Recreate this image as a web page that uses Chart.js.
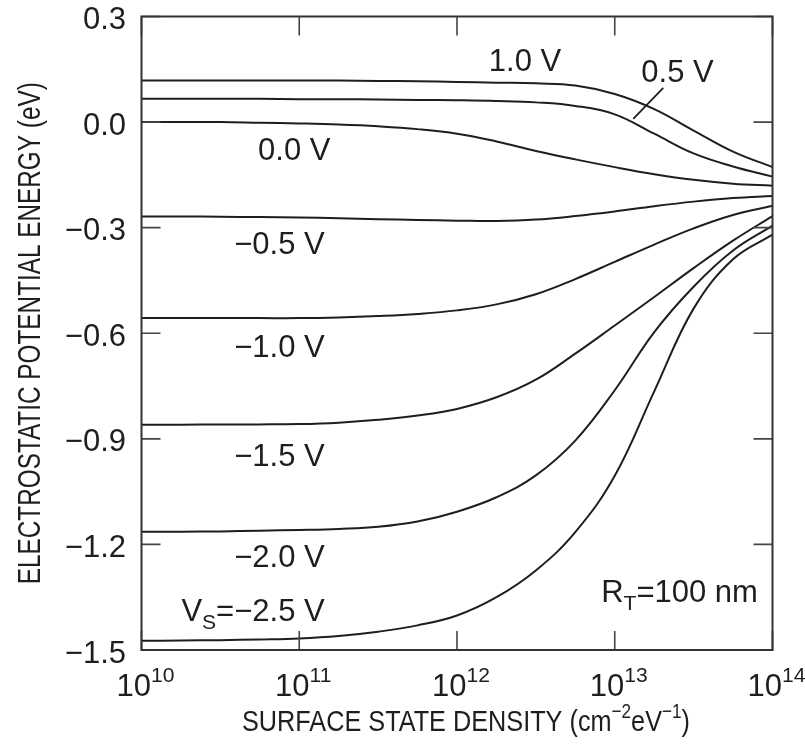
<!DOCTYPE html>
<html lang="en">
<head>
<meta charset="UTF-8" />
<title>Electrostatic potential energy vs surface state density</title>
<script src="https://cdn.jsdelivr.net/npm/chart.js"></script>
<style>
  html, body { margin: 0; padding: 0; background: #fff; }
  #wrap { width: 805px; height: 751px; }
</style>
</head>
<body>
<div id="wrap"><canvas id="potChart" width="805" height="751"></canvas></div>
<script>
// surface state density samples (cm^-2 eV^-1), quarter-decade steps
const density = [1e10, 1.78e10, 3.16e10, 5.62e10, 1e11, 1.78e11, 3.16e11, 5.62e11,
                 1e12, 1.78e12, 3.16e12, 5.62e12, 1e13, 1.78e13, 3.16e13, 5.62e13, 1e14];

// electrostatic potential energy (eV) for each sample bias Vs
const pot10  = [0.118, 0.118, 0.118, 0.118, 0.118, 0.118, 0.117, 0.116, 0.114, 0.112, 0.110, 0.104, 0.080, 0.037, -0.024, -0.084, -0.128];
const pot05  = [0.066, 0.066, 0.066, 0.066, 0.065, 0.065, 0.064, 0.063, 0.062, 0.060, 0.056, 0.046, 0.022, -0.033, -0.089, -0.126, -0.155];
const pot00  = [0.000, 0.000, 0.000, -0.002, -0.004, -0.007, -0.012, -0.020, -0.033, -0.055, -0.082, -0.106, -0.128, -0.148, -0.164, -0.175, -0.181];
const potM05 = [-0.268, -0.268, -0.269, -0.270, -0.271, -0.273, -0.276, -0.278, -0.280, -0.281, -0.277, -0.267, -0.254, -0.239, -0.226, -0.216, -0.210];
const potM10 = [-0.557, -0.557, -0.557, -0.557, -0.557, -0.555, -0.551, -0.545, -0.535, -0.518, -0.489, -0.446, -0.397, -0.348, -0.302, -0.264, -0.238];
const potM15 = [-0.860, -0.860, -0.859, -0.859, -0.858, -0.854, -0.846, -0.834, -0.815, -0.782, -0.732, -0.658, -0.578, -0.497, -0.415, -0.337, -0.267];
const potM20 = [-1.164, -1.164, -1.163, -1.161, -1.159, -1.156, -1.150, -1.135, -1.107, -1.066, -1.004, -0.905, -0.762, -0.597, -0.468, -0.365, -0.294];
const potM25 = [-1.474, -1.473, -1.472, -1.470, -1.467, -1.460, -1.448, -1.430, -1.402, -1.350, -1.274, -1.165, -1.005, -0.765, -0.530, -0.390, -0.320];

const series = [pot10, pot05, pot00, potM05, potM10, potM15, potM20, potM25];

// axis ticks
const yTicks = [0.3, 0.0, -0.3, -0.6, -0.9, -1.2, -1.5];
const yTickLabels = ['0.3', '0.0', '\u22120.3', '\u22120.6', '\u22120.9', '\u22121.2', '\u22121.5'];
const xTickExp = [10, 11, 12, 13, 14];

// pointer from the 0.5 V label to its curve
const leaderX = [1.31e13, 2.03e13];
const leaderY = [0.009, 0.097];

// curve labels, anchored in data units (x, y = text baseline)
const curveLabels = [
  { runs: [['1.0 V', '']], x: 2.7e12, y: 0.145, align: 'center' },
  { runs: [['0.5 V', '']], x: 2.5e13, y: 0.114, align: 'center' },
  { runs: [['0.0 V', '']], x: 9.3e10, y: -0.108, align: 'center' },
  { runs: [['\u22120.5 V', '']], x: 1.45e11, y: -0.375, align: 'right' },
  { runs: [['\u22121.0 V', '']], x: 1.45e11, y: -0.667, align: 'right' },
  { runs: [['\u22121.5 V', '']], x: 1.45e11, y: -0.978, align: 'right' },
  { runs: [['\u22122.0 V', '']], x: 1.45e11, y: -1.265, align: 'right' },
  { runs: [['V', ''], ['S', 'sub'], ['=\u22122.5 V', '']], x: 1.45e11, y: -1.418, align: 'right' },
  { runs: [['R', ''], ['T', 'sub'], ['=100 nm', '']], x: 8.2e12, y: -1.364, align: 'left' }
];

const FONT = '"Liberation Sans", Arial, Helvetica, sans-serif';
const INK = '#1e1e1e';

// draw a run list (normal / sup / sub pieces) with optional horizontal squeeze
function drawRuns(ctx, runs, x, y, size, opt) {
  opt = opt || {};
  const small = size * 0.68;
  const pieces = runs.map(([t, kind]) => {
    const s = kind ? small : size;
    ctx.font = s + 'px ' + FONT;
    return { t, kind, s, w: ctx.measureText(t).width };
  });
  const natural = pieces.reduce((a, p) => a + p.w, 0);
  const sx = opt.width ? opt.width / natural : (opt.sx || 1);
  const total = natural * sx;
  let start = 0;
  if (opt.align === 'center') start = -total / 2;
  else if (opt.align === 'right') start = -total;
  ctx.save();
  ctx.translate(x, y);
  if (opt.rotate) ctx.rotate(opt.rotate);
  ctx.translate(start, 0);
  ctx.scale(sx, 1);
  ctx.fillStyle = INK;
  ctx.textAlign = 'left';
  ctx.textBaseline = 'alphabetic';
  let cx = 0;
  pieces.forEach(p => {
    ctx.font = p.s + 'px ' + FONT;
    let dy = 0;
    if (p.kind === 'sup') dy = -size * 0.45;
    if (p.kind === 'sub') dy = size * 0.24;
    ctx.fillText(p.t, cx, dy);
    cx += p.w;
  });
  ctx.restore();
}

const framePlugin = {
  id: 'frame',
  afterDraw(chart) {
    const { ctx, chartArea: a, scales: { x, y } } = chart;
    ctx.save();
    // ticks pointing inward on all four sides
    ctx.strokeStyle = '#444';
    ctx.lineWidth = 1.6;
    const len = 19;
    ctx.beginPath();
    yTicks.forEach(v => {
      const py = y.getPixelForValue(v);
      ctx.moveTo(a.left, py); ctx.lineTo(a.left + len, py);
      ctx.moveTo(a.right, py); ctx.lineTo(a.right - len, py);
    });
    xTickExp.forEach(e => {
      const px = x.getPixelForValue(Math.pow(10, e));
      ctx.moveTo(px, a.bottom); ctx.lineTo(px, a.bottom - len);
      ctx.moveTo(px, a.top); ctx.lineTo(px, a.top + len);
    });
    ctx.stroke();
    // frame
    ctx.strokeStyle = '#333';
    ctx.lineWidth = 2;
    ctx.strokeRect(a.left, a.top, a.right - a.left, a.bottom - a.top);
    ctx.restore();

    // y tick labels
    yTicks.forEach((v, i) => {
      drawRuns(ctx, [[yTickLabels[i], '']], a.left - 15.5, y.getPixelForValue(v) + 12.5, 31, { align: 'right' });
    });
    // x tick labels as 10^n
    xTickExp.forEach(e => {
      drawRuns(ctx, [['10', ''], [String(e), 'sup']], x.getPixelForValue(Math.pow(10, e)) + 4, 696, 31, { align: 'center' });
    });
    // axis titles
    drawRuns(ctx, [['SURFACE STATE DENSITY (cm', ''], ['\u22122', 'sup'], ['eV', ''], ['\u22121', 'sup'], [')', '']],
      (a.left + a.right) / 2 + 9, 731, 30, { align: 'center', width: 448 });
    drawRuns(ctx, [['ELECTROSTATIC POTENTIAL ENERGY (eV)', '']],
      40, (a.top + a.bottom) / 2, 32, { align: 'center', width: 502, rotate: -Math.PI / 2 });

    // curve labels
    curveLabels.forEach(l => {
      drawRuns(ctx, l.runs, x.getPixelForValue(l.x), y.getPixelForValue(l.y), 31, { align: l.align });
    });
  }
};

const datasets = series.map(vals => ({
  data: density.map((d, i) => ({ x: d, y: vals[i] })),
  borderColor: INK,
  borderWidth: 2,
  pointRadius: 0,
  fill: false,
  tension: 0.4
}));
datasets.push({
  data: leaderX.map((d, i) => ({ x: d, y: leaderY[i] })),
  borderColor: INK,
  borderWidth: 1.8,
  pointRadius: 0,
  fill: false,
  tension: 0
});

new Chart(document.getElementById('potChart'), {
  type: 'line',
  data: { datasets },
  options: {
    responsive: false,
    animation: false,
    events: [],
    layout: { padding: { left: 141.5, right: 32.5, top: 16.5, bottom: 101 } },
    scales: {
      x: { type: 'logarithmic', min: 1e10, max: 1e14, display: false },
      y: { type: 'linear', min: -1.5, max: 0.3, display: false }
    },
    plugins: { legend: { display: false }, tooltip: { enabled: false } }
  },
  plugins: [framePlugin]
});
</script>
</body>
</html>
